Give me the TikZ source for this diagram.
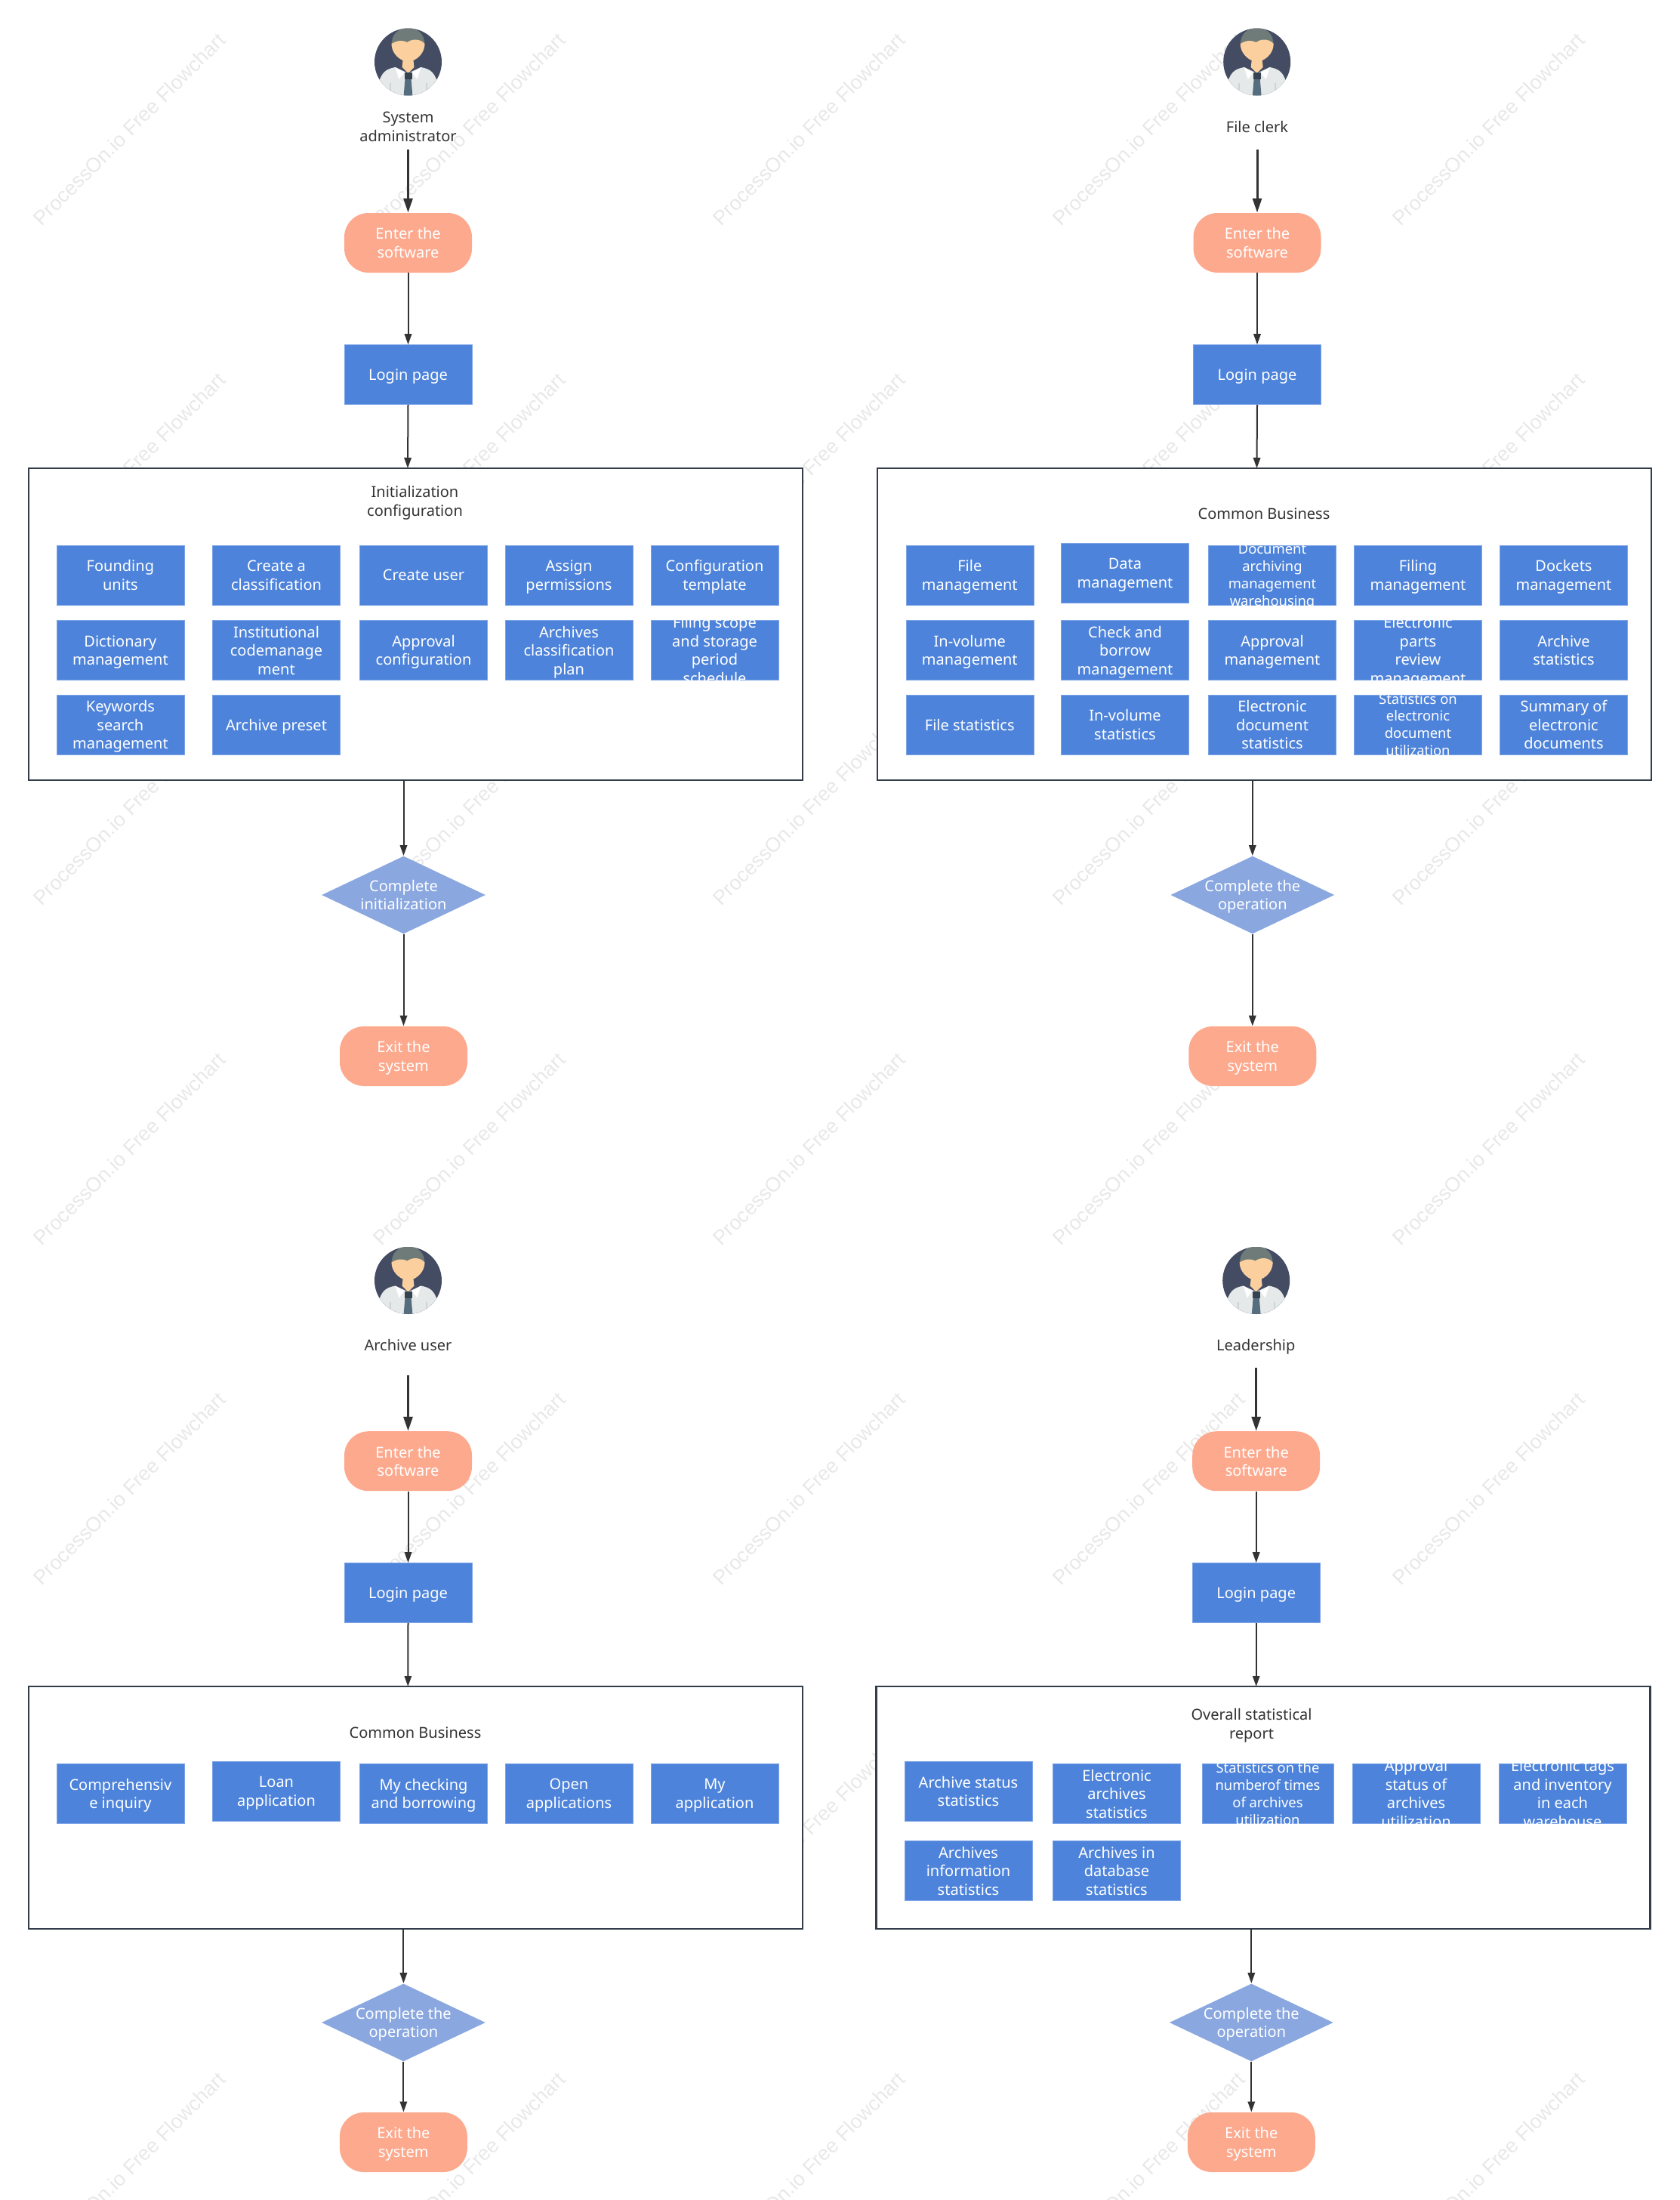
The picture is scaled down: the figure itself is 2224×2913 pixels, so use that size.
\documentclass[tikz,border=0pt]{standalone}
\usepackage{fontspec}
\setmainfont{Noto Sans}
\newfontfamily\markfont{Liberation Sans}
\usetikzlibrary{shapes.geometric, arrows.meta}

\definecolor{taskblue}{HTML}{4D83DA}
\definecolor{taskedge}{HTML}{7DA4E6}
\definecolor{termsalmon}{HTML}{FDA98E}
\definecolor{choiceblue}{HTML}{8AA7E0}
\definecolor{linedark}{HTML}{333333}
\definecolor{framedark}{HTML}{333D49}
\definecolor{markgray}{HTML}{E8E8E8}
\definecolor{coatnavy}{HTML}{434C62}
\definecolor{hairgray}{HTML}{6E7B78}
\definecolor{skintone}{HTML}{FBCF9E}
\definecolor{shirtgray}{HTML}{E5E9EA}
\definecolor{foldgray}{HTML}{CCD4D6}
\definecolor{tieblue}{HTML}{566C7F}
\definecolor{knotdark}{HTML}{34434F}

\tikzset{
    bodyfont/.style={font=\fontsize{10}{12.3}\selectfont, text depth=0pt},
    smallfont/.style={font=\fontsize{9.2}{11.4}\selectfont},
    taskbox/.style={bodyfont, text=white, fill=taskblue, draw=taskedge, line width=0.3pt, align=center,
        inner xsep=0pt, inner ysep=-8pt, minimum width=84.5pt, minimum height=39.5pt},
    tasksmall/.style={taskbox, smallfont},
    termbox/.style={bodyfont, text=white, fill=termsalmon, rounded corners=16pt, align=center,
        inner sep=0pt, minimum width=84.5pt, minimum height=39.5pt},
    choicebox/.style={bodyfont, text=white, fill=choiceblue, shape=diamond, align=center,
        inner sep=-4pt, shape aspect=2.1, minimum width=108.5pt, minimum height=51.5pt},
    groupbox/.style={fill=white, draw=framedark, line width=1.25pt, minimum width=512.5pt, inner sep=0pt},
    caption/.style={bodyfont, text=linedark, align=center, inner sep=0pt},
    watermark/.style={font=\markfont\fontsize{13.4}{16}\selectfont, text=markgray, rotate=45, inner sep=0pt},
    flowline/.style={draw=linedark, line width=1pt},
    heavyline/.style={draw=linedark, line width=1.5pt, >={Stealth[inset=0pt, length=9.5pt, width=6pt]}},
    person/.pic={
        \fill[coatnavy] (0,0) circle[radius=44.5];
        \begin{scope}
            \clip (0,0) circle[radius=44.5];
            \fill[hairgray] (-22,-22) .. controls (-22,-38) and (-12,-45) .. (0,-45) .. controls (12,-45) and (22,-38) .. (22,-22) -- cycle;
            \fill[skintone] (-22,-24) .. controls (-14,-29) and (-7,-29) .. (-1,-26) .. controls (4,-30) and (15,-32) .. (22,-24) .. controls (22,-13) and (14,-5) .. (7,-2) -- (8,7) -- (0,15) -- (-8,7) -- (-7,-2) .. controls (-14,-5) and (-22,-13) .. (-22,-24) -- cycle;
            \fill[shirtgray] (-40,28) -- (-37,22) .. controls (-33,12) and (-27,9) .. (-17,7) -- (0,15) -- (17,7) .. controls (27,9) and (33,12) .. (37,22) -- (40,28) -- (40,50) -- (-40,50) -- cycle;
            \fill[white] (-17,7) -- (-5,14) -- (-12,23) -- cycle;
            \fill[white] (17,7) -- (5,14) -- (12,23) -- cycle;
            \fill[foldgray] (-25,28) rectangle (-23,45);
            \fill[foldgray] (23,28) rectangle (25,45);
            \fill[tieblue] (-4,22) -- (4,22) -- (6,46) -- (-6,46) -- cycle;
            \fill[knotdark] (-5,14) rectangle (5,23);
        \end{scope}
    }
}

\begin{document}
\begin{tikzpicture}[
        ->,
        >={Stealth[inset=0pt, length=7pt, width=4.7pt]},
        x=0.5pt,
        y=-0.5pt
    ]
    \useasboundingbox (0,0) rectangle (2224,2913);

    \foreach \col/\wx in {1/171,2/621,3/1071,4/1521,5/1971}
        \foreach \row/\wy in {1/171,2/621,3/1071,4/1521,5/1971,6/2421,7/2871}
            \node[watermark] (mark\col\row) at (\wx,\wy) {ProcessOn.io Free Flowchart};

    % system administrator
    \pic (faceA) at (540.5,82) {person};
    \node[caption] (roleA) at (540.5,168) {System\\administrator};
    \coordinate (roleAfoot) at (540.5,198);
    \node[termbox] (enterA) at (540.5,321.5) {Enter the\\software};
    \node[taskbox] (loginA) at (540.5,496) {Login page};
    \node[groupbox, minimum height=206.5pt] (groupA) at (550.5,826.5) {};
    \node[caption] (titleA) at (549.5,663.5) {Initialization\\configuration};
    \coordinate (groupAin) at (540,620);
    \coordinate (groupAout) at (534.5,1033);
    \node[taskbox] (a11) at (159.4,761.5) {Founding\\units};
    \node[taskbox] (a12) at (366,761.5) {Create a\\classification};
    \node[taskbox] (a13) at (561,761.5) {Create user};
    \node[taskbox] (a14) at (753.5,761.5) {Assign\\permissions};
    \node[taskbox] (a15) at (946.5,761.5) {Configuration\\template};
    \node[taskbox] (a21) at (159.4,861) {Dictionary\\management};
    \node[taskbox] (a22) at (366,861) {Institutional\\codemanage\\ment};
    \node[taskbox] (a23) at (561,861) {Approval\\configuration};
    \node[taskbox] (a24) at (753.5,861) {Archives\\classification\\plan};
    \node[taskbox] (a25) at (946.5,861) {Filing scope\\and storage\\period\\schedule};
    \node[taskbox] (a31) at (159.4,959.5) {Keywords\\search\\management};
    \node[taskbox] (a32) at (366,959.5) {Archive preset};
    \node[choicebox] (doneA) at (534.5,1185) {Complete\\initialization};
    \node[termbox] (exitA) at (534.5,1398.5) {Exit the\\system};

    \draw[heavyline] (roleAfoot) -- (enterA.north);
    \draw[flowline] (enterA.south) -- (loginA.north);
    \draw[flowline] (loginA.south) -- (groupAin);
    \draw[flowline] (groupAout) -- (doneA.north);
    \draw[flowline] (doneA.south) -- (exitA.north);

    % file clerk
    \pic (faceB) at (1664.7,82) {person};
    \node[caption] (roleB) at (1665,167.4) {File clerk};
    \coordinate (roleBfoot) at (1665,198);
    \node[termbox] (enterB) at (1665,321.5) {Enter the\\software};
    \node[taskbox] (loginB) at (1665,496) {Login page};
    \node[groupbox, minimum height=206.5pt] (groupB) at (1674.6,826.5) {};
    \node[caption] (titleB) at (1674,680) {Common Business};
    \coordinate (groupBin) at (1664.5,620);
    \coordinate (groupBout) at (1658.8,1033);
    \node[taskbox] (b11) at (1284.3,761.5) {File\\management};
    \node[taskbox] (b12) at (1490,759) {Data\\management};
    \node[tasksmall] (b13) at (1685,761.5) {Document\\archiving\\management\\warehousing};
    \node[taskbox] (b14) at (1878,761.5) {Filing\\management};
    \node[taskbox] (b15) at (2071,761.5) {Dockets\\management};
    \node[taskbox] (b21) at (1284.3,861) {In-volume\\management};
    \node[taskbox] (b22) at (1490,861) {Check and\\borrow\\management};
    \node[taskbox] (b23) at (1685,861) {Approval\\management};
    \node[taskbox] (b24) at (1878,861) {Electronic\\parts\\review\\management};
    \node[taskbox] (b25) at (2071,861) {Archive\\statistics};
    \node[taskbox] (b31) at (1284.3,959.5) {File statistics};
    \node[taskbox] (b32) at (1490,959.5) {In-volume\\statistics};
    \node[taskbox] (b33) at (1685,959.5) {Electronic\\document\\statistics};
    \node[tasksmall] (b34) at (1878,959.5) {Statistics on\\electronic\\document\\utilization};
    \node[taskbox] (b35) at (2071,959.5) {Summary of\\electronic\\documents};
    \node[choicebox] (doneB) at (1658.8,1185) {Complete the\\operation};
    \node[termbox] (exitB) at (1658.8,1398.5) {Exit the\\system};

    \draw[heavyline] (roleBfoot) -- (enterB.north);
    \draw[flowline] (enterB.south) -- (loginB.north);
    \draw[flowline] (loginB.south) -- (groupBin);
    \draw[flowline] (groupBout) -- (doneB.north);
    \draw[flowline] (doneB.south) -- (exitB.north);

    % archive user
    \pic (faceC) at (540.5,1695.5) {person};
    \node[caption] (roleC) at (540.5,1780.6) {Archive user};
    \coordinate (roleCfoot) at (540.5,1821);
    \node[termbox] (enterC) at (540.5,1934.7) {Enter the\\software};
    \node[taskbox] (loginC) at (540.5,2109) {Login page};
    \node[groupbox, minimum height=160.5pt] (groupC) at (550.5,2393.5) {};
    \node[caption] (titleC) at (550,2294) {Common Business};
    \coordinate (groupCin) at (540.3,2233);
    \coordinate (groupCout) at (534.4,2554);
    \node[taskbox] (c11) at (159.4,2375) {Comprehensiv\\e inquiry};
    \node[taskbox] (c12) at (366,2372) {Loan\\application};
    \node[taskbox] (c13) at (561,2375) {My checking\\and borrowing};
    \node[taskbox] (c14) at (753.5,2375) {Open\\applications};
    \node[taskbox] (c15) at (946.5,2375) {My\\application};
    \node[choicebox] (doneC) at (534.4,2678) {Complete the\\operation};
    \node[termbox] (exitC) at (534.4,2836.5) {Exit the\\system};

    \draw[heavyline] (roleCfoot) -- (enterC.north);
    \draw[flowline] (enterC.south) -- (loginC.north);
    \draw[flowline] (loginC.south) -- (groupCin);
    \draw[flowline] (groupCout) -- (doneC.north);
    \draw[flowline] (doneC.south) -- (exitC.north);

    % leadership
    \pic (faceD) at (1663.7,1695.5) {person};
    \node[caption] (roleD) at (1663.3,1780.6) {Leadership};
    \coordinate (roleDfoot) at (1663.7,1811);
    \node[termbox] (enterD) at (1663.7,1934.7) {Enter the\\software};
    \node[taskbox] (loginD) at (1663.7,2109) {Login page};
    \node[groupbox, minimum height=160.5pt] (groupD) at (1672.8,2393.5) {};
    \node[caption] (titleD) at (1657.5,2282.5) {Overall statistical\\report};
    \coordinate (groupDin) at (1663.7,2233);
    \coordinate (groupDout) at (1657.3,2554);
    \node[taskbox] (d11) at (1282.5,2372) {Archive status\\statistics};
    \node[taskbox] (d12) at (1479,2375) {Electronic\\archives\\statistics};
    \node[tasksmall, minimum width=87pt] (d13) at (1679,2375) {Statistics on the\\numberof times\\of archives\\utilization};
    \node[taskbox] (d14) at (1875.5,2375) {Approval\\status of\\archives\\utilization};
    \node[taskbox] (d15) at (2069.5,2375) {Electronic tags\\and inventory\\in each\\warehouse};
    \node[taskbox] (d21) at (1282.5,2477) {Archives\\information\\statistics};
    \node[taskbox] (d22) at (1479,2477) {Archives in\\database\\statistics};
    \node[choicebox] (doneD) at (1657.3,2678) {Complete the\\operation};
    \node[termbox] (exitD) at (1657.3,2836.5) {Exit the\\system};

    \draw[heavyline] (roleDfoot) -- (enterD.north);
    \draw[flowline] (enterD.south) -- (loginD.north);
    \draw[flowline] (loginD.south) -- (groupDin);
    \draw[flowline] (groupDout) -- (doneD.north);
    \draw[flowline] (doneD.south) -- (exitD.north);
\end{tikzpicture}
\end{document}
